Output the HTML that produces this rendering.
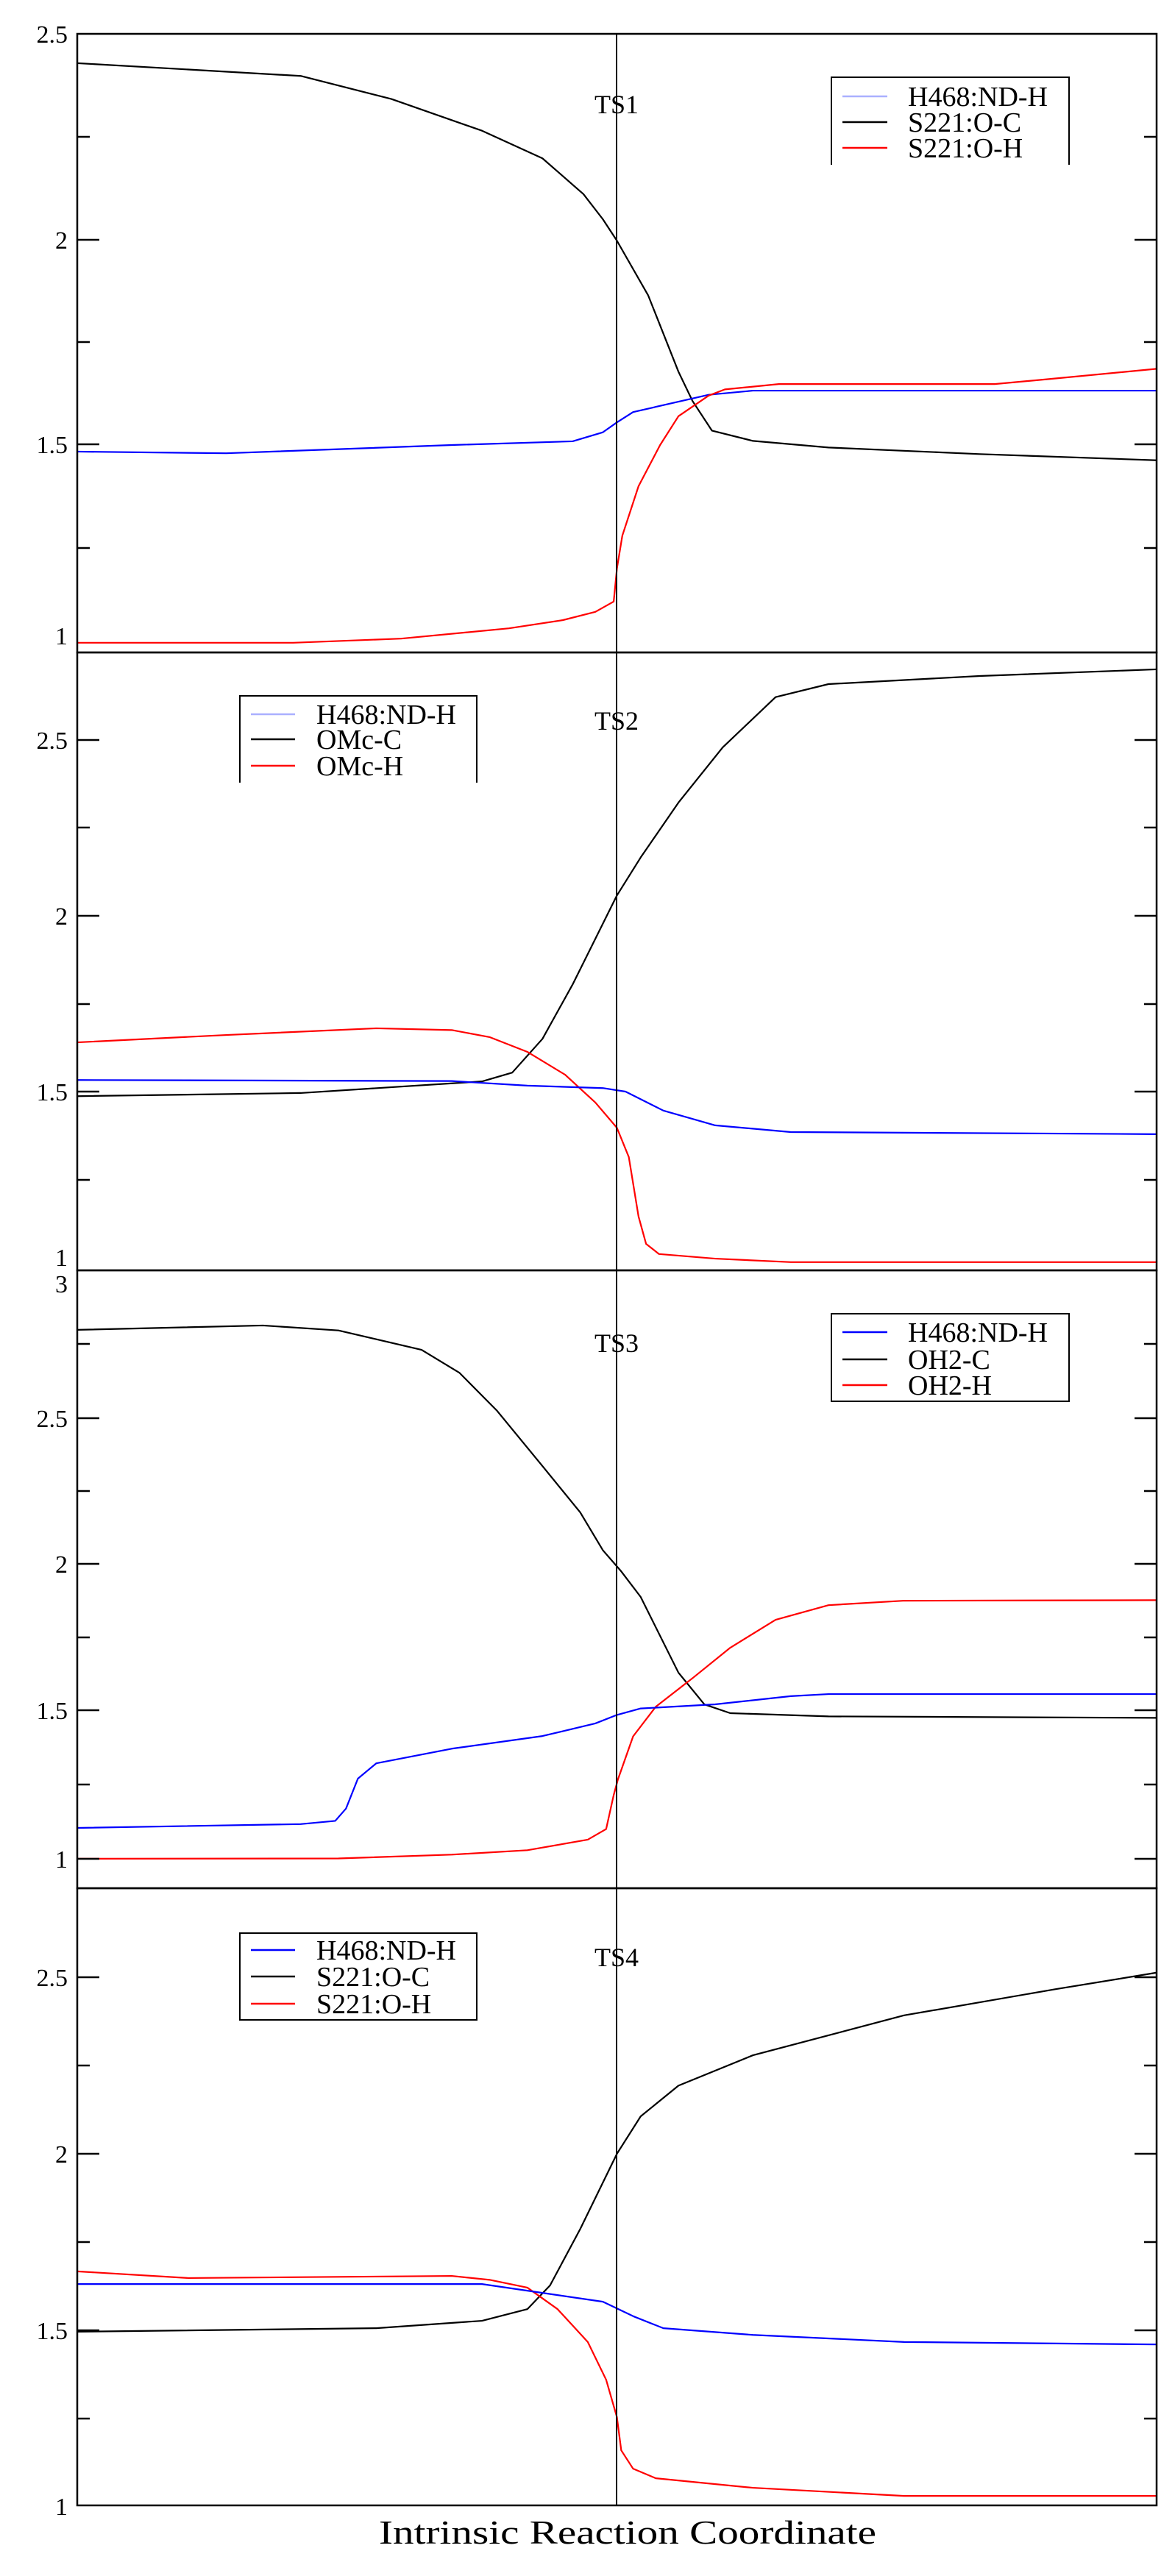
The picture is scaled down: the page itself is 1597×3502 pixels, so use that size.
<!DOCTYPE html>
<html><head><meta charset="utf-8"><style>html,body{margin:0;padding:0;background:#fff}svg{display:block}</style></head>
<body>
<svg width="1597" height="3502" viewBox="0 0 1597 3502" xmlns="http://www.w3.org/2000/svg" font-family="Liberation Serif, serif">
<rect width="1597" height="3502" fill="#fff"/>
<!-- Panel 1: py = 1445 - 560 v -->
<g transform="matrix(1467,0,0,-560,105,1445)" fill="none" stroke-width="2.2" stroke-linejoin="round">
<polyline vector-effect="non-scaling-stroke" stroke="#000" points="0,2.427 0.207,2.396 0.291,2.34 0.375,2.263 0.431,2.196 0.469,2.109 0.487,2.048 0.5,1.996 0.529,1.863 0.557,1.678 0.57,1.607 0.588,1.535 0.626,1.51 0.696,1.494 0.836,1.478 1,1.463"/>
<polyline vector-effect="non-scaling-stroke" stroke="#00f" points="0,1.484 0.138,1.48 0.347,1.5 0.459,1.509 0.487,1.531 0.5,1.555 0.515,1.58 0.585,1.622 0.626,1.632 1,1.632"/>
<polyline vector-effect="non-scaling-stroke" stroke="#f00" points="0,1.02 0.2,1.02 0.3,1.03 0.4,1.055 0.45,1.075 0.48,1.095 0.497,1.12 0.5,1.2 0.505,1.28 0.52,1.40 0.54,1.5 0.557,1.57 0.585,1.62 0.6,1.635 0.65,1.648 0.85,1.648 0.9,1.66 1,1.685"/>
</g>
<!-- Panel 2: py = 2201 - 478 v -->
<g transform="matrix(1467,0,0,-478,105,2201)" fill="none" stroke-width="2.2" stroke-linejoin="round">
<polyline vector-effect="non-scaling-stroke" stroke="#000" points="0,1.487 0.207,1.496 0.375,1.529 0.403,1.554 0.431,1.65 0.459,1.805 0.5,2.058 0.522,2.166 0.557,2.322 0.598,2.479 0.647,2.622 0.696,2.659 0.836,2.682 1,2.701"/>
<polyline vector-effect="non-scaling-stroke" stroke="#f00" points="0,1.64 0.138,1.661 0.277,1.68 0.347,1.675 0.382,1.655 0.417,1.613 0.452,1.548 0.48,1.469 0.5,1.397 0.511,1.314 0.52,1.145 0.527,1.067 0.539,1.038 0.591,1.025 0.661,1.015 1,1.015"/>
<polyline vector-effect="non-scaling-stroke" stroke="#00f" points="0,1.533 0.347,1.53 0.417,1.517 0.487,1.51 0.508,1.5 0.543,1.446 0.591,1.404 0.661,1.385 1,1.379"/>
</g>
<!-- Panel 3: py = 2925.5 - 399 v -->
<g transform="matrix(1467,0,0,-399,105,2925.5)" fill="none" stroke-width="2.2" stroke-linejoin="round">
<polyline vector-effect="non-scaling-stroke" stroke="#000" points="0,2.801 0.172,2.816 0.242,2.799 0.319,2.733 0.354,2.655 0.389,2.525 0.431,2.337 0.466,2.179 0.487,2.05 0.504,1.978 0.522,1.891 0.557,1.633 0.581,1.525 0.605,1.495 0.696,1.484 1,1.479"/>
<polyline vector-effect="non-scaling-stroke" stroke="#f00" points="0,0.999 0.242,1.0 0.347,1.013 0.417,1.028 0.473,1.064 0.49,1.1 0.497,1.216 0.501,1.27 0.515,1.416 0.536,1.517 0.571,1.617 0.605,1.718 0.647,1.813 0.696,1.863 0.765,1.878 1,1.88"/>
<polyline vector-effect="non-scaling-stroke" stroke="#00f" points="0,1.104 0.207,1.117 0.239,1.128 0.249,1.17 0.26,1.272 0.277,1.324 0.347,1.374 0.431,1.417 0.48,1.46 0.5,1.489 0.522,1.511 0.591,1.525 0.661,1.553 0.696,1.56 1,1.56"/>
</g>
<!-- Panel 4: py = 3888 - 480 v -->
<g transform="matrix(1467,0,0,-480,105,3888)" fill="none" stroke-width="2.2" stroke-linejoin="round">
<polyline vector-effect="non-scaling-stroke" stroke="#000" points="0,1.496 0.277,1.506 0.375,1.527 0.417,1.56 0.438,1.627 0.466,1.787 0.5,2.0 0.522,2.106 0.557,2.193 0.626,2.279 0.766,2.392 0.906,2.466 1,2.513"/>
<polyline vector-effect="non-scaling-stroke" stroke="#f00" points="0,1.667 0.103,1.648 0.347,1.654 0.382,1.643 0.417,1.621 0.445,1.56 0.473,1.467 0.49,1.36 0.5,1.254 0.504,1.16 0.515,1.108 0.536,1.081 0.626,1.054 0.766,1.031 1,1.031"/>
<polyline vector-effect="non-scaling-stroke" stroke="#00f" points="0,1.631 0.375,1.631 0.431,1.606 0.487,1.581 0.515,1.54 0.543,1.506 0.626,1.487 0.766,1.467 1,1.46"/>
</g>
<!-- frames -->
<g fill="none" stroke="#000" stroke-width="2.5">
<rect x="105" y="46" width="1467" height="841"/>
<rect x="105" y="887" width="1467" height="840"/>
<rect x="105" y="1727" width="1467" height="840"/>
<rect x="105" y="2567" width="1467" height="839"/>
</g>
<line x1="838" y1="46" x2="838" y2="3406" stroke="#000" stroke-width="2"/>
<!-- ticks -->
<g stroke="#000" stroke-width="2.5">
<path d="M105 326h30M105 604h30M1572 326h-30M1572 604h-30M105 186h17M105 465h17M105 745h17M1572 186h-17M1572 465h-17M1572 745h-17"/>
<path d="M105 1006h30M105 1245h30M105 1484h30M1572 1006h-30M1572 1245h-30M1572 1484h-30M105 1125h17M105 1365h17M105 1604h17M1572 1125h-17M1572 1365h-17M1572 1604h-17"/>
<path d="M105 1928h30M105 2126h30M105 2325h30M105 2527h30M1572 1928h-30M1572 2126h-30M1572 2325h-30M1572 2527h-30M105 1827h17M105 2027h17M105 2226h17M105 2426h17M1572 1827h-17M1572 2027h-17M1572 2226h-17M1572 2426h-17"/>
<path d="M105 2688h30M105 2928h30M105 3168h30M1572 2688h-30M1572 2928h-30M1572 3168h-30M105 2808h17M105 3048h17M105 3288h17M1572 2808h-17M1572 3048h-17M1572 3288h-17"/>
</g>
<!-- tick labels -->
<g font-size="34" text-anchor="end" fill="#000">
<text x="92" y="58">2.5</text><text x="92" y="338">2</text><text x="92" y="616">1.5</text><text x="92" y="876">1</text>
<text x="92" y="1018">2.5</text><text x="92" y="1257">2</text><text x="92" y="1496">1.5</text><text x="92" y="1721">1</text>
<text x="92" y="1757">3</text><text x="92" y="1940">2.5</text><text x="92" y="2138">2</text><text x="92" y="2337">1.5</text><text x="92" y="2539">1</text>
<text x="92" y="2700">2.5</text><text x="92" y="2940">2</text><text x="92" y="3180">1.5</text><text x="92" y="3419">1</text>
</g>
<!-- TS labels -->
<g font-size="36" text-anchor="middle" fill="#000">
<text x="838" y="154">TS1</text><text x="838" y="992">TS2</text><text x="838" y="1838">TS3</text><text x="838" y="2673">TS4</text>
</g>
<!-- legends -->
<g font-size="38" fill="#000">
<path d="M1130 224V105h323v119" fill="none" stroke="#000" stroke-width="2"/>
<line x1="1145" y1="131" x2="1206" y2="131" stroke="#aab0ff" stroke-width="2.5"/>
<line x1="1145" y1="166" x2="1206" y2="166" stroke="#000" stroke-width="2.5"/>
<line x1="1145" y1="201" x2="1206" y2="201" stroke="#f00" stroke-width="2.5"/>
<text x="1234" y="144">H468:ND-H</text><text x="1234" y="179">S221:O-C</text><text x="1234" y="214">S221:O-H</text>

<path d="M326 1064V946h322v118" fill="none" stroke="#000" stroke-width="2"/>
<line x1="341" y1="971" x2="401" y2="971" stroke="#aab0ff" stroke-width="2.5"/>
<line x1="341" y1="1005" x2="401" y2="1005" stroke="#000" stroke-width="2.5"/>
<line x1="341" y1="1041" x2="401" y2="1041" stroke="#f00" stroke-width="2.5"/>
<text x="430" y="984">H468:ND-H</text><text x="430" y="1018">OMc-C</text><text x="430" y="1054">OMc-H</text>

<rect x="1130" y="1786" width="323" height="119" fill="none" stroke="#000" stroke-width="2"/>
<line x1="1145" y1="1811" x2="1206" y2="1811" stroke="#00f" stroke-width="2.5"/>
<line x1="1145" y1="1848" x2="1206" y2="1848" stroke="#000" stroke-width="2.5"/>
<line x1="1145" y1="1883" x2="1206" y2="1883" stroke="#f00" stroke-width="2.5"/>
<text x="1234" y="1824">H468:ND-H</text><text x="1234" y="1861">OH2-C</text><text x="1234" y="1896">OH2-H</text>

<rect x="326" y="2628" width="322" height="118" fill="none" stroke="#000" stroke-width="2"/>
<line x1="341" y1="2651" x2="401" y2="2651" stroke="#00f" stroke-width="2.5"/>
<line x1="341" y1="2687" x2="401" y2="2687" stroke="#000" stroke-width="2.5"/>
<line x1="341" y1="2724" x2="401" y2="2724" stroke="#f00" stroke-width="2.5"/>
<text x="430" y="2664">H468:ND-H</text><text x="430" y="2700">S221:O-C</text><text x="430" y="2737">S221:O-H</text>
</g>
<text x="515" y="3458" font-size="46" textLength="676" lengthAdjust="spacingAndGlyphs" fill="#000">Intrinsic Reaction Coordinate</text>
</svg>
</body></html>
